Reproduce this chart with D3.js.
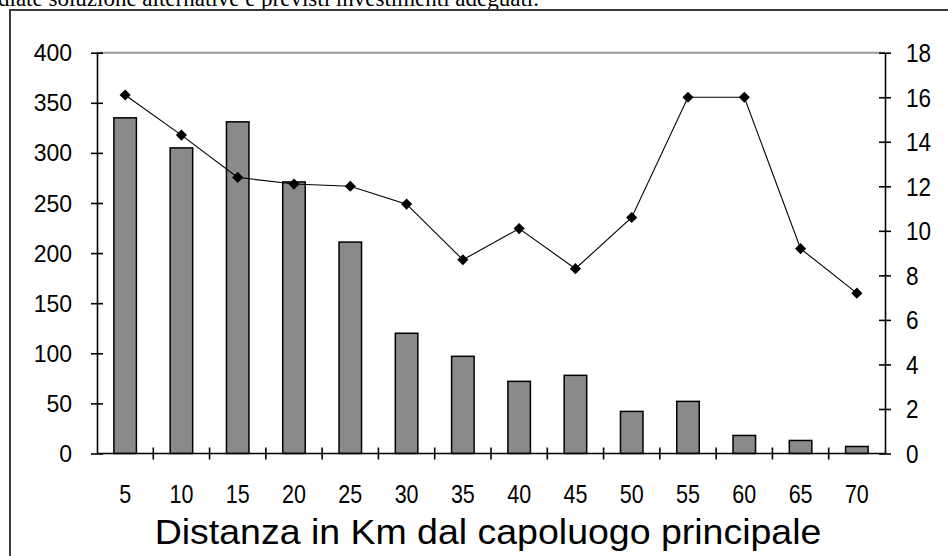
<!DOCTYPE html>
<html>
<head>
<meta charset="utf-8">
<script src="https://cdn.jsdelivr.net/npm/d3@7/dist/d3.min.js"></script>
<style>
  html, body { margin: 0; padding: 0; background: #fff; }
  svg { display: block; }
</style>
</head>
<body>
<svg id="chart" width="948" height="556"></svg>
<script>
// ---- data ----
const categories = ["5","10","15","20","25","30","35","40","45","50","55","60","65","70"];
const barValues  = [335, 305, 331, 271, 211, 120, 97, 72, 78, 42, 52, 18, 13, 7];
const lineValues = [16.1, 14.3, 12.4, 12.1, 12.0, 11.2, 8.7, 10.1, 8.3, 10.6, 16.0, 16.0, 9.2, 7.2];
const leftTicks  = [0, 50, 100, 150, 200, 250, 300, 350, 400];
const rightTicks = [0, 2, 4, 6, 8, 10, 12, 14, 16, 18];
const xTitle = "Distanza in Km dal capoluogo principale";
const topText = "diate soluzione alternative e previsti investimenti adeguati.";

// ---- layout ----
const svg = d3.select("#chart");
const plot = { left: 97, right: 885, top: 52.7, bottom: 453.5 };
const sansFont = "'Liberation Sans', Arial, sans-serif";

// page text above the frame (partly cut off at top, as in the reference)
svg.append("text")
  .attr("x", -2).attr("y", 6)
  .attr("font-family", "'Liberation Serif', 'Times New Roman', serif")
  .attr("font-size", 23)
  .attr("fill", "#000")
  .text(topText);

// outer frame
svg.append("rect")
  .attr("x", 10).attr("y", 10)
  .attr("width", 1000).attr("height", 700)
  .attr("fill", "none").attr("stroke", "#3a3a3a").attr("stroke-width", 2);

// ---- scales ----
const x = d3.scaleBand().domain(categories)
  .range([plot.left, plot.right]).paddingInner(0.6).paddingOuter(0.3);
const step = x.step();
const yL = d3.scaleLinear().domain([0, 400]).range([plot.bottom, plot.top]);
const yR = d3.scaleLinear().domain([0, 18]).range([plot.bottom, plot.top]);

// plot-area top border
svg.append("line")
  .attr("x1", plot.left).attr("x2", plot.right)
  .attr("y1", plot.top).attr("y2", plot.top)
  .attr("stroke", "#9a9a9a").attr("stroke-width", 2);

// ---- bars ----
svg.append("g").selectAll("rect").data(categories).join("rect")
  .attr("x", d => x(d))
  .attr("y", (d, i) => yL(barValues[i]))
  .attr("width", x.bandwidth())
  .attr("height", (d, i) => yL(0) - yL(barValues[i]))
  .attr("fill", "#8a8a8a")
  .attr("stroke", "#000").attr("stroke-width", 1.5);

// ---- axes ----
function styleAxis(g) {
  g.select(".domain").attr("stroke", "#000").attr("stroke-width", 1.6);
  g.selectAll(".tick line").attr("stroke", "#000").attr("stroke-width", 1.6);
  g.selectAll("text").attr("fill", "#000").attr("font-family", sansFont);
}

// left axis
const gL = svg.append("g").attr("transform", `translate(${plot.left},0)`)
  .call(d3.axisLeft(yL).tickValues(leftTicks).tickSize(5).tickSizeOuter(0).tickPadding(16));
styleAxis(gL);
gL.selectAll(".tick line").attr("x1", -6).attr("x2", 6);
gL.selectAll(".tick text").attr("font-size", 23).attr("dy", "0.35em").attr("x", -25);

// right axis
const sxR = 0.9;
const gR = svg.append("g").attr("transform", `translate(${plot.right},0)`)
  .call(d3.axisRight(yR).tickValues(rightTicks).tickSize(5).tickSizeOuter(0));
styleAxis(gR);
gR.selectAll(".tick line").attr("x1", -6).attr("x2", 6);
gR.selectAll(".tick text").attr("font-size", 25).attr("dy", "0.36em")
  .attr("x", 21 / sxR).attr("transform", `scale(${sxR},1)`);

// bottom axis (ticks at category boundaries)
const sxX = 0.86;
const gB = svg.append("g").attr("transform", `translate(0,${plot.bottom})`)
  .call(d3.axisBottom(x).tickSize(0).tickSizeOuter(0));
styleAxis(gB);
gB.selectAll(".tick text").attr("font-size", 25).attr("y", 0).attr("dy", 50)
  .attr("transform", `scale(${sxX},1)`);
gB.select(".domain").attr("d", `M${plot.left},0H${plot.right}`);
gB.selectAll(".bound").data(categories.slice(0, -1)).join("line")
  .attr("class", "bound")
  .attr("x1", d => x(d) + x.bandwidth() + step * 0.3)
  .attr("x2", d => x(d) + x.bandwidth() + step * 0.3)
  .attr("y1", -6).attr("y2", 6)
  .attr("stroke", "#000").attr("stroke-width", 1.6);

// x title
const title = svg.append("text")
  .attr("x", (plot.left + plot.right) / 2).attr("y", 544)
  .attr("text-anchor", "middle")
  .attr("font-family", sansFont).attr("font-size", 35)
  .attr("fill", "#000")
  .text(xTitle);
const tw = title.node().getComputedTextLength();
const target = 667;
const cx = (plot.left + plot.right) / 2 - 3;
title.attr("x", 0).attr("y", 0)
  .attr("transform", `translate(${cx},544) scale(${target / tw},1)`);

// ---- line series ----
const line = d3.line()
  .x((d, i) => x(categories[i]) + x.bandwidth() / 2)
  .y(d => yR(d));
svg.append("path").datum(lineValues)
  .attr("d", line)
  .attr("fill", "none").attr("stroke", "#000").attr("stroke-width", 1.1);

const marker = d3.symbol().type(d3.symbolSquare).size(62);
svg.append("g").selectAll("path").data(lineValues).join("path")
  .attr("d", marker)
  .attr("transform", (d, i) =>
    `translate(${x(categories[i]) + x.bandwidth() / 2},${yR(d)}) rotate(45)`)
  .attr("fill", "#000");
</script>
</body>
</html>
